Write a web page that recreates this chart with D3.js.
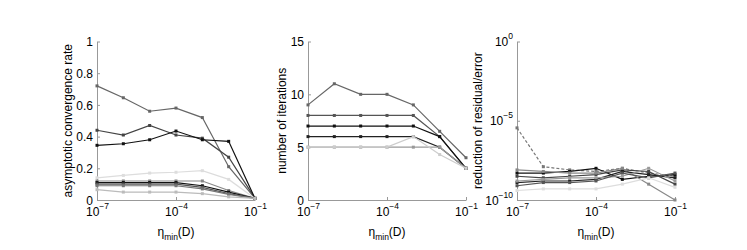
<!DOCTYPE html>
<html>
<head>
<meta charset="utf-8">
<script src="https://cdn.jsdelivr.net/npm/d3@7"></script>
<style>
  body { margin: 0; background: #fff; }
  text { font-family: "Liberation Sans", Arial, sans-serif; fill: #000; }
</style>
</head>
<body>
<div id="chart"></div>
<script>
// eta_min(D) sample points
var etaValues = [1e-7, 1e-6, 1e-5, 1e-4, 1e-3, 1e-2, 1e-1];
var xTickValues = [1e-7, 1e-4, 1e-1];

// panel 1: asymptotic convergence rate
var rateSeries = [
  [0.72, 0.645, 0.56, 0.58, 0.52, 0.21, 0.01],
  [0.44, 0.41, 0.47, 0.41, 0.39, 0.27, 0.01],
  [0.345, 0.355, 0.38, 0.435, 0.38, 0.37, 0.01],
  [0.14, 0.155, 0.17, 0.175, 0.185, 0.13, 0.01],
  [0.12, 0.12, 0.12, 0.12, 0.12, 0.06, 0.01],
  [0.11, 0.11, 0.11, 0.11, 0.09, 0.05, 0.01],
  [0.10, 0.10, 0.10, 0.10, 0.08, 0.04, 0.01],
  [0.09, 0.09, 0.09, 0.09, 0.07, 0.035, 0.01],
  [0.065, 0.05, 0.05, 0.05, 0.04, 0.02, 0.01]
];
var rateColors = ["#666", "#444", "#111", "#ddd", "#888", "#111", "#555", "#777", "#bbb"];
var rateTicks = [0, 0.2, 0.4, 0.6, 0.8, 1];

// panel 2: number of iterations
var iterSeries = [
  [9, 11, 10, 10, 9, 6.5, 4],
  [8, 8, 8, 8, 8, 6, 3],
  [7, 7, 7, 7, 7, 6, 3],
  [6, 6, 6, 6, 6, 5, 3],
  [5, 5, 5, 5, 5, 5, 3],
  [5, 5, 5, 5, 6, 4.3, 3]
];
var iterColors = ["#666", "#555", "#111", "#222", "#999", "#ccc"];
var iterTicks = [0, 5, 10, 15];

// panel 3: reduction of residual/error (log10 exponents)
var reductionExp = [
  [-5.45, -7.9, -8.1, -8.2, -8.0, -8.3, -8.5],
  [-8.3, -8.3, -8.2, -8.0, -8.7, -8.5, -8.4],
  [-8.5, -8.6, -8.5, -8.4, -8.1, -8.2, -9.0],
  [-8.1, -8.2, -8.3, -8.3, -8.0, -9.0, -10.0],
  [-8.9, -8.8, -8.8, -8.7, -8.2, -8.4, -8.6],
  [-8.8, -8.7, -8.6, -8.6, -8.5, -8.0, -8.8],
  [-9.1, -8.9, -8.9, -8.8, -8.3, -8.6, -8.3],
  [-9.4, -9.3, -9.3, -9.3, -9.0, -8.6, -9.2]
];
var reductionColors = ["#777", "#111", "#444", "#888", "#222", "#999", "#555", "#ddd"];
var reductionDashed = [true, false, false, false, false, false, false, false];
var reductionTicks = [1e-10, 1e-5, 1];

var W = 747, H = 250;
var plotTop = 41.5, plotBottom = 200, pw = 158;

var svg = d3.select("#chart").append("svg")
    .attr("width", W)
    .attr("height", H);

function supLabel(t, exp) {
  t.append("tspan").text("10");
  t.append("tspan").attr("dy", -7).attr("font-size", 8.5).text(exp);
}

function drawPanel(opt) {
  var x = d3.scaleLog().domain([1e-7, 1e-1]).range([opt.left, opt.left + pw]);
  var y = opt.y;
  var g = svg.append("g");

  // axes, matlab style inward ticks
  var xAxis = d3.axisBottom(x).tickValues(xTickValues).tickSizeInner(-3).tickSizeOuter(0).tickFormat("");
  var gx = g.append("g").attr("transform", "translate(0," + plotBottom + ")").call(xAxis);
  var yAxis = d3.axisLeft(y).tickValues(opt.ticks).tickSizeInner(-3).tickSizeOuter(0).tickFormat("");
  var gy = g.append("g").attr("transform", "translate(" + opt.left + ",0)").call(yAxis);
  g.selectAll(".domain, .tick line").attr("stroke", "#999").attr("stroke-width", 1);

  gx.selectAll(".tick").append("text")
    .attr("y", 16)
    .attr("text-anchor", "middle")
    .attr("font-size", 12)
    .each(function(d) {
      var e = Math.round(Math.log10(d));
      supLabel(d3.select(this), "\u2212" + (-e));
    });

  gy.selectAll(".tick").append("text")
    .attr("x", -4)
    .attr("dy", "0.35em")
    .attr("text-anchor", "end")
    .attr("font-size", 12)
    .each(function(d) {
      var t = d3.select(this);
      if (opt.log) {
        var e = Math.round(Math.log10(d));
        supLabel(t, e === 0 ? "0" : "\u2212" + (-e));
      } else {
        t.text(d3.format("~g")(d));
      }
    });

  // y label
  g.append("text")
    .attr("transform", "translate(" + opt.labelX + "," + ((plotTop + plotBottom) / 2) + ") rotate(-90)")
    .attr("text-anchor", "middle")
    .attr("font-size", 12)
    .text(opt.label);

  // x label
  var xl = g.append("text")
    .attr("x", opt.left + pw / 2)
    .attr("y", 236)
    .attr("text-anchor", "middle")
    .attr("font-size", 12);
  xl.append("tspan").text("\u03b7");
  xl.append("tspan").attr("dy", 4).attr("font-size", 8.5).text("min");
  xl.append("tspan").attr("dy", -4).text("(D)");

  var line = d3.line()
    .x(function(d, i) { return x(etaValues[i]); })
    .y(function(d) { return y(d); });

  opt.series.forEach(function(s, k) {
    var col = opt.colors[k];
    g.append("path")
      .datum(s)
      .attr("fill", "none")
      .attr("stroke", col)
      .attr("stroke-width", 1.2)
      .attr("stroke-dasharray", opt.dashed && opt.dashed[k] ? "3,2" : null)
      .attr("d", line);
    g.selectAll(null)
      .data(s)
      .enter().append("rect")
      .attr("x", function(d, i) { return x(etaValues[i]) - 1.5; })
      .attr("y", function(d) { return y(d) - 1.5; })
      .attr("width", 3)
      .attr("height", 3)
      .attr("fill", col);
  });
}

drawPanel({
  left: 97,
  y: d3.scaleLinear().domain([0, 1]).range([plotBottom, plotTop]),
  ticks: rateTicks,
  series: rateSeries,
  colors: rateColors,
  label: "asymptotic convergence rate",
  labelX: 72
});

drawPanel({
  left: 308,
  y: d3.scaleLinear().domain([0, 15]).range([plotBottom, plotTop]),
  ticks: iterTicks,
  series: iterSeries,
  colors: iterColors,
  label: "number of iterations",
  labelX: 286
});

drawPanel({
  left: 517,
  y: d3.scaleLog().domain([1e-10, 1]).range([plotBottom, plotTop]),
  ticks: reductionTicks,
  log: true,
  series: reductionExp.map(function(s) { return s.map(function(e) { return Math.pow(10, e); }); }),
  colors: reductionColors,
  dashed: reductionDashed,
  label: "reduction of residual/error",
  labelX: 482
});
</script>
</body>
</html>
